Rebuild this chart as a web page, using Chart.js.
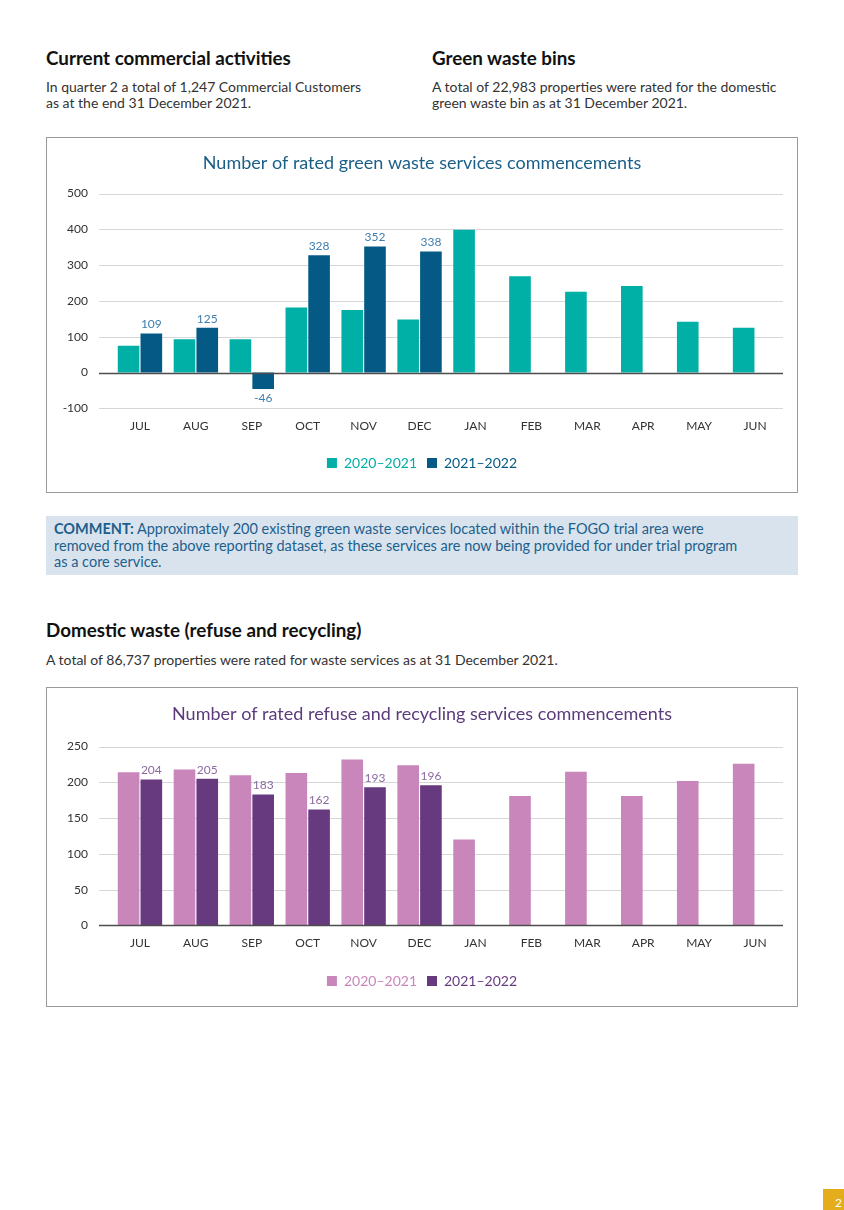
<!DOCTYPE html>
<html>
<head>
<meta charset="utf-8">
<script src="https://cdn.jsdelivr.net/npm/chart.js@4.4.1/dist/chart.umd.min.js"></script>
<style>
  body { margin: 0; background: #fff; font-family: Lato, "Noto Sans", sans-serif; color: #222; }
  .page { position: relative; width: 844px; height: 1210px; overflow: hidden; }
  .abs { position: absolute; }
  h2 { margin: 0; font-size: 18.8px; font-weight: 700; color: #111; }
  p { margin: 0; font-size: 14px; line-height: 16px; color: #333; white-space: nowrap; }
  .box { position: absolute; left: 46px; width: 750px; border: 1px solid #9a9a9a; background: #fff; }
  .comment { left: 46px; top: 516px; width: 736px; height: 54px; background: #d9e3ee; padding: 5px 8px 0 8px; color: #1d5f8c; font-size: 14.5px; line-height: 16.5px; white-space: nowrap; }
  .pagenum { left: 823px; top: 1189px; width: 21px; height: 21px; background: #e3ad1c; color: #fff; font-size: 12px; padding-left: 12px; box-sizing: border-box; line-height: 28px; }
</style>
</head>
<body>
<div class="page">
  <h2 class="abs" style="left:46px; top:46px;">Current commercial activities</h2>
  <p class="abs" style="left:46px; top:79px;">In quarter 2 a total of 1,247 Commercial Customers<br>as at the end 31 December 2021.</p>
  <h2 class="abs" style="left:432px; top:46px;">Green waste bins</h2>
  <p class="abs" style="left:432px; top:79px;">A total of 22,983 properties were rated for the domestic<br>green waste bin as at 31 December 2021.</p>

  <div class="box" style="top:137px; height:354px;"><canvas id="greenChart"></canvas></div>

  <div class="abs comment"><b>COMMENT:</b> Approximately 200 existing green waste services located within the FOGO trial area were<br>removed from the above reporting dataset, as these services are now being provided for under trial program<br>as a core service.</div>

  <h2 class="abs" style="left:46px; top:618px;">Domestic waste (refuse and recycling)</h2>
  <p class="abs" style="left:46px; top:652px;">A total of 86,737 properties were rated for waste services as at 31 December 2021.</p>

  <div class="box" style="top:687px; height:318px;"><canvas id="refuseChart"></canvas></div>

  <div class="abs pagenum">2</div>
</div>
<script>
const months = ['JUL', 'AUG', 'SEP', 'OCT', 'NOV', 'DEC', 'JAN', 'FEB', 'MAR', 'APR', 'MAY', 'JUN'];
const seriesNames = ['2020–2021', '2021–2022'];

// green waste commencements
const green2021 = [75, 93, 93, 182, 175, 148, 399, 269, 226, 242, 142, 125];
const green2122 = [109, 125, -46, 328, 352, 338, null, null, null, null, null, null];
const greenTicks = [-100, 0, 100, 200, 300, 400, 500];

// refuse and recycling commencements
const refuse2021 = [214, 218, 210, 213, 232, 224, 120, 181, 215, 181, 202, 226];
const refuse2122 = [204, 205, 183, 162, 193, 196, null, null, null, null, null, null];
const refuseTicks = [0, 50, 100, 150, 200, 250];

const FONT = 'Lato, "Noto Sans", sans-serif';

// draws the value above (or below, if negative) each bar of the second dataset
const barValues = {
    id: 'barValues',
    afterDatasetsDraw(chart, args, opts) {
        const ctx = chart.ctx;
        const meta = chart.getDatasetMeta(1);
        const data = chart.data.datasets[1].data;
        ctx.save();
        ctx.font = '12px ' + FONT;
        ctx.fillStyle = opts.color;
        ctx.textAlign = 'center';
        meta.data.forEach(function(bar, i) {
            const v = data[i];
            if (v === null || v === undefined) return;
            if (v < 0) {
                ctx.textBaseline = 'top';
                ctx.fillText(v, bar.x, bar.y + 3);
            } else {
                ctx.textBaseline = 'bottom';
                ctx.fillText(v, bar.x, bar.y - 3);
            }
        });
        ctx.restore();
    }
};

// horizontal gridlines run a little past the left of the plot, like the original
function drawGrid(chart, zeroOnly) {
    const ctx = chart.ctx;
    const area = chart.chartArea;
    const y = chart.scales.y;
    ctx.save();
    y.ticks.forEach(function(t) {
        const isZero = t.value === 0;
        if (zeroOnly !== isZero) return;
        const py = Math.round(y.getPixelForValue(t.value)) + 0.5;
        ctx.strokeStyle = isZero ? '#4d4d4d' : '#d6d6d6';
        ctx.lineWidth = isZero ? 1.5 : 1;
        ctx.beginPath();
        ctx.moveTo(area.left - 13, py);
        ctx.lineTo(area.right, py);
        ctx.stroke();
    });
    ctx.restore();
}
const gridLines = {
    id: 'gridLines',
    beforeDatasetsDraw(chart) { drawGrid(chart, false); },
    afterDatasetsDraw(chart) { drawGrid(chart, true); }
};

function makeChart(id, opts) {
    const ctx = document.getElementById(id).getContext('2d');
    return new Chart(ctx, {
        type: 'bar',
        data: {
            labels: months,
            datasets: [
                {
                    label: seriesNames[0],
                    data: opts.first,
                    backgroundColor: opts.colors[0],
                    categoryPercentage: 0.814,
                    barPercentage: 0.95
                },
                {
                    label: seriesNames[1],
                    data: opts.second,
                    backgroundColor: opts.colors[1],
                    categoryPercentage: 0.814,
                    barPercentage: 0.95
                }
            ]
        },
        options: {
            responsive: true,
            maintainAspectRatio: false,
            animation: false,
            layout: { padding: { left: 14, right: 14, top: opts.padTop, bottom: opts.padBottom } },
            plugins: {
                title: {
                    display: true,
                    text: opts.title,
                    color: opts.titleColor,
                    font: { family: FONT, size: 18, weight: '400' },
                    padding: { top: 4, bottom: opts.titleGap }
                },
                legend: {
                    position: 'bottom',
                    // empty title used only as a spacer above the legend items
                    title: { display: true, text: '', font: { size: 1 }, padding: { top: opts.legendGap, bottom: 0 } },
                    labels: {
                        boxWidth: 10,
                        boxHeight: 10,
                        padding: 10,
                        font: { family: FONT, size: 14 },
                        generateLabels: function(chart) {
                            return chart.data.datasets.map(function(ds, i) {
                                return {
                                    text: ds.label,
                                    fillStyle: ds.backgroundColor,
                                    strokeStyle: ds.backgroundColor,
                                    lineWidth: 0,
                                    fontColor: opts.colors[i],
                                    datasetIndex: i
                                };
                            });
                        }
                    }
                },
                tooltip: { enabled: false },
                barValues: { color: opts.labelColor }
            },
            scales: {
                x: {
                    grid: { display: false },
                    border: { display: false },
                    ticks: { color: '#333', font: { family: FONT, size: 12 }, padding: 3 }
                },
                y: {
                    min: opts.ticks[0],
                    max: opts.ticks[opts.ticks.length - 1],
                    afterBuildTicks: function(axis) {
                        axis.ticks = opts.ticks.map(v => ({ value: v }));
                    },
                    afterFit: function(axis) { axis.width = 51; },
                    border: { display: false },
                    grid: { display: false, drawTicks: false },
                    ticks: { color: '#333', font: { family: FONT, size: 12 }, padding: 24 }
                }
            }
        },
        plugins: [gridLines, barValues]
    });
}

makeChart('greenChart', {
    first: green2021,
    second: green2122,
    ticks: greenTicks,
    colors: ['#00afa6', '#045a85'],
    labelColor: '#3f7fb0',
    title: 'Number of rated green waste services commencements',
    titleColor: '#1b5f88',
    padTop: 10,
    titleGap: 20,
    padBottom: 12,
    legendGap: 8
});

makeChart('refuseChart', {
    first: refuse2021,
    second: refuse2122,
    ticks: refuseTicks,
    colors: ['#c886bb', '#673a80'],
    labelColor: '#8a6aa3',
    title: 'Number of rated refuse and recycling services commencements',
    titleColor: '#5b3b7b',
    padTop: 11,
    titleGap: 22,
    padBottom: 8,
    legendGap: 9
});
</script>
</body>
</html>
